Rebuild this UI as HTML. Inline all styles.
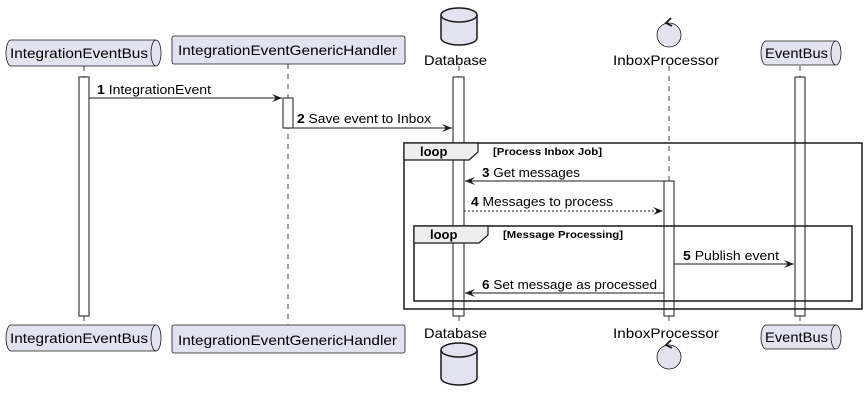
<!DOCTYPE html>
<html><head><meta charset="utf-8"><style>html,body{margin:0;padding:0;background:#fff}svg{display:block}text{font-family:"Liberation Sans",sans-serif;fill:#000}</style></head><body>
<svg width="866" height="403" viewBox="0 0 866 403" xmlns="http://www.w3.org/2000/svg">
<defs><marker id="a" viewBox="0 0 10 8" refX="10" refY="4" markerWidth="10" markerHeight="8" orient="auto-start-reverse" markerUnits="userSpaceOnUse"><path d="M0,0 L10,4 L0,8 L4,4 Z" fill="#181818"/></marker></defs>
<g stroke="#181818" stroke-width="0.8" stroke-dasharray="5,5">
<line x1="84" y1="66" x2="84" y2="325"/><line x1="288" y1="64" x2="288" y2="325"/><line x1="459" y1="66" x2="459" y2="325"/><line x1="669" y1="66" x2="669" y2="325"/><line x1="800" y1="66" x2="800" y2="325"/>
</g>
<g fill="#fff" stroke="#181818" stroke-width="1">
<rect x="79" y="77" width="10" height="239"/><rect x="453" y="77" width="11" height="239"/><rect x="795" y="77" width="10" height="239"/><rect x="283" y="98" width="10" height="30"/><rect x="664" y="181" width="10" height="135"/>
</g>
<g fill="none" stroke="#181818" stroke-width="1.5">
<rect x="404" y="143" width="458" height="166"/><rect x="414" y="226" width="438" height="75"/>
</g>
<path d="M404,143 L478,143 L478,152 L469,160 L404,160 Z" fill="#eee" stroke="#181818" stroke-width="1.2"/>
<path d="M414,226 L488,226 L488,235 L479,243 L414,243 Z" fill="#eee" stroke="#181818" stroke-width="1.2"/>
<text x="420" y="156" font-size="13" font-weight="bold">loop</text>
<text x="430" y="239" font-size="13" font-weight="bold">loop</text>
<text x="493" y="155" font-size="10" font-weight="bold" textLength="109" lengthAdjust="spacingAndGlyphs">[Process Inbox Job]</text>
<text x="503" y="238" font-size="10" font-weight="bold" textLength="120" lengthAdjust="spacingAndGlyphs">[Message Processing]</text>
<g stroke="#181818" stroke-width="1">
<line x1="89" y1="98" x2="282" y2="98" marker-end="url(#a)"/>
<line x1="293" y1="128" x2="452" y2="128" marker-end="url(#a)"/>
<line x1="664" y1="181" x2="465" y2="181" marker-end="url(#a)"/>
<line x1="464" y1="211" x2="663" y2="211" stroke-dasharray="2,2" marker-end="url(#a)"/>
<line x1="674" y1="264" x2="794" y2="264" marker-end="url(#a)"/>
<line x1="664" y1="293" x2="465" y2="293" marker-end="url(#a)"/>
</g>
<g font-size="12.5">
<text x="97" y="94" textLength="114" lengthAdjust="spacingAndGlyphs"><tspan font-weight="bold">1</tspan> IntegrationEvent</text>
<text x="297" y="123" textLength="134" lengthAdjust="spacingAndGlyphs"><tspan font-weight="bold">2</tspan> Save event to Inbox</text>
<text x="482" y="177" textLength="98" lengthAdjust="spacingAndGlyphs"><tspan font-weight="bold">3</tspan> Get messages</text>
<text x="471" y="206" textLength="142" lengthAdjust="spacingAndGlyphs"><tspan font-weight="bold">4</tspan> Messages to process</text>
<text x="683" y="260" textLength="96" lengthAdjust="spacingAndGlyphs"><tspan font-weight="bold">5</tspan> Publish event</text>
<text x="482" y="289" textLength="175" lengthAdjust="spacingAndGlyphs"><tspan font-weight="bold">6</tspan> Set message as processed</text>
</g>
<g fill="#e2e2f0" stroke="#181818" stroke-width="0.8">
<path d="M11,40 L156,40 A5,13 0 0 1 156,66 L11,66 A5,13 0 0 1 11,40 Z"/><path d="M156,40 A5,13 0 0 0 156,66" fill="none"/>
<rect x="172" y="36" width="233" height="28" rx="2"/>
<path d="M766,41 L836,41 A5,12 0 0 1 836,65 L766,65 A5,12 0 0 1 766,41 Z"/><path d="M836,41 A5,12 0 0 0 836,65" fill="none"/>
<path d="M11,325 L156,325 A5,13 0 0 1 156,351 L11,351 A5,13 0 0 1 11,325 Z"/><path d="M156,325 A5,13 0 0 0 156,351" fill="none"/>
<rect x="172" y="325" width="233" height="28" rx="2"/>
<path d="M766,325 L836,325 A5,12 0 0 1 836,349 L766,349 A5,12 0 0 1 766,325 Z"/><path d="M836,325 A5,12 0 0 0 836,349" fill="none"/>
<circle cx="669" cy="35" r="12"/><circle cx="669" cy="357" r="12"/>
</g>
<g fill="#e2e2f0" stroke="#181818" stroke-width="1.5">
<path d="M441,15 L441,38 A18,7 0 0 0 477,38 L477,15"/><ellipse cx="459" cy="15" rx="18" ry="7"/>
<path d="M441,350 L441,378 A18,7 0 0 0 477,378 L477,350"/><ellipse cx="459" cy="350" rx="18" ry="7"/>
</g>
<path d="M671,18 L666,23 L672,26" fill="none" stroke="#181818" stroke-width="1.8"/>
<path d="M671,340 L666,345 L672,348" fill="none" stroke="#181818" stroke-width="1.8"/>
<g font-size="14">
<text x="10" y="58" textLength="138" lengthAdjust="spacingAndGlyphs">IntegrationEventBus</text>
<text x="178" y="55" textLength="219" lengthAdjust="spacingAndGlyphs">IntegrationEventGenericHandler</text>
<text x="424" y="65" textLength="63" lengthAdjust="spacingAndGlyphs">Database</text>
<text x="613" y="65" textLength="106" lengthAdjust="spacingAndGlyphs">InboxProcessor</text>
<text x="765" y="58" textLength="63" lengthAdjust="spacingAndGlyphs">EventBus</text>
<text x="10" y="343" textLength="138" lengthAdjust="spacingAndGlyphs">IntegrationEventBus</text>
<text x="178" y="345" textLength="219" lengthAdjust="spacingAndGlyphs">IntegrationEventGenericHandler</text>
<text x="424" y="338" textLength="63" lengthAdjust="spacingAndGlyphs">Database</text>
<text x="613" y="338" textLength="106" lengthAdjust="spacingAndGlyphs">InboxProcessor</text>
<text x="765" y="342" textLength="63" lengthAdjust="spacingAndGlyphs">EventBus</text>
</g>
</svg>
</body></html>
